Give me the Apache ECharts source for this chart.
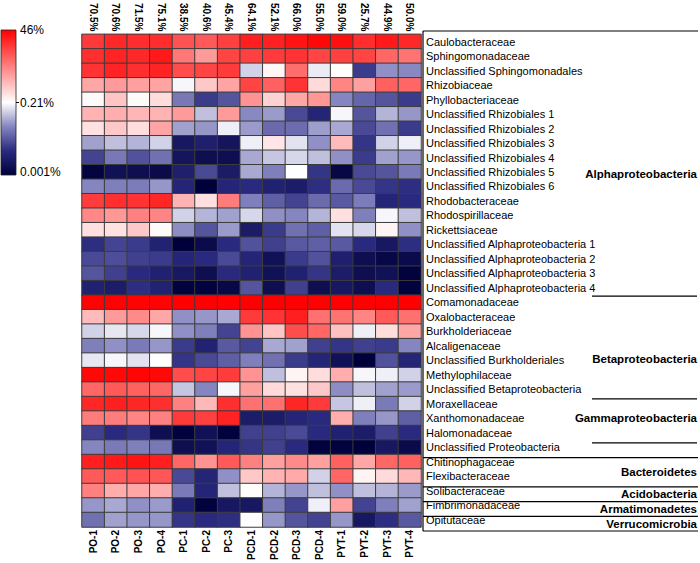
<!DOCTYPE html>
<html>
<head>
<meta charset="utf-8">
<script src="https://cdn.jsdelivr.net/npm/echarts@6/dist/echarts.min.js"></script>
<style>
html,body{margin:0;padding:0;background:#fff;}
#chart{width:700px;height:563px;}
</style>
</head>
<body>
<div id="chart"></div>
<script>
// ---- data ----
const samples = ['PO-1','PO-2','PO-3','PO-4','PC-1','PC-2','PC-3','PCD-1','PCD-2','PCD-3','PCD-4','PYT-1','PYT-2','PYT-3','PYT-4'];
const coverage = ['70.5%','70.6%','71.5%','75.1%','38.5%','40.6%','45.4%','64.1%','52.1%','66.0%','55.0%','59.0%','25.7%','44.9%','50.0%'];
const families = [
  'Caulobacteraceae','Sphingomonadaceae','Unclassified Sphingomonadales','Rhizobiaceae','Phyllobacteriaceae',
  'Unclassified Rhizobiales 1','Unclassified Rhizobiales 2','Unclassified Rhizobiales 3','Unclassified Rhizobiales 4',
  'Unclassified Rhizobiales 5','Unclassified Rhizobiales 6','Rhodobacteraceae','Rhodospirillaceae','Rickettsiaceae',
  'Unclassified Alphaproteobacteria 1','Unclassified Alphaproteobacteria 2','Unclassified Alphaproteobacteria 3',
  'Unclassified Alphaproteobacteria 4','Comamonadaceae','Oxalobacteraceae','Burkholderiaceae','Alcaligenaceae',
  'Unclassified Burkholderiales','Methylophilaceae','Unclassified Betaproteobacteria','Moraxellaceae',
  'Xanthomonadaceae','Halomonadaceae','Unclassified Proteobacteria','Chitinophagaceae','Flexibacteraceae',
  'Solibacteraceae','Fimbrimonadaceae','Opitutaceae'
];
// relative abundance (%) per family (rows) x sample (columns)
const abundance = [
  [14, 20, 18, 18, 8.2, 7, 12, 24, 23, 31, 39, 33, 18, 27, 20],
  [17, 22, 20, 27, 3.7, 1.8, 11, 12, 13.5, 15.6, 11, 12, 11, 5.3, 4.1],
  [15.6, 22, 17, 22, 9.1, 11, 13.5, 0.11, 0.26, 4.6, 0.16, 0.23, 0.0083, 0.042, 0.038],
  [1.4, 1.8, 1.6, 1.5, 0.19, 0.68, 1.45, 11, 6.1, 15.6, 0.47, 2.8, 1.6, 6.1, 5.3],
  [0.24, 0.73, 0.24, 0.44, 0.028, 0.0083, 0.014, 2.1, 0.55, 1.4, 1.9, 0.036, 0.019, 0.014, 0.0083],
  [1.06, 1.2, 1.0, 1.06, 1.8, 0.085, 1.8, 0.038, 0.049, 0.011, 0.0048, 0.19, 0.014, 0.071, 0.046],
  [0.4, 0.68, 0.44, 1.45, 0.054, 0.046, 0.17, 0.049, 0.021, 0.022, 0.052, 0.06, 0.011, 0.024, 0.0083],
  [0.054, 0.085, 0.071, 0.11, 0.0028, 0.0037, 0.0024, 0.17, 0.36, 0.14, 0.042, 0.9, 0.0075, 0.11, 0.17],
  [0.0098, 0.028, 0.013, 0.024, 0.0024, 0.0018, 0.0018, 0.06, 0.093, 0.12, 0.085, 0.042, 0.0083, 0.054, 0.046],
  [0.0012, 0.0021, 0.0018, 0.0016, 0.0037, 0.011, 0.0031, 0.06, 0.032, 0.21, 0.0075, 0.0014, 0.011, 0.014, 0.029],
  [0.036, 0.032, 0.03, 0.046, 0.0048, 0.001, 0.0048, 0.0058, 0.0041, 0.0033, 0.0063, 0.021, 0.011, 0.0075, 0.0063],
  [13, 17, 15.6, 20.5, 1.06, 0.42, 3.4, 0.032, 0.017, 0.0098, 0.021, 0.015, 0.03, 0.0048, 0.0058],
  [2.7, 1.9, 3.1, 2.8, 0.11, 0.071, 0.054, 0.12, 0.042, 0.036, 0.071, 0.42, 0.032, 0.19, 0.085],
  [0.42, 0.4, 0.68, 0.24, 0.04, 0.014, 0.049, 0.0031, 0.0083, 0.024, 0.017, 0.14, 0.12, 0.27, 0.042],
  [0.0063, 0.01, 0.0083, 0.0043, 0.001, 0.0016, 0.0058, 0.013, 0.0092, 0.015, 0.017, 0.015, 0.0058, 0.0028, 0.0063],
  [0.011, 0.012, 0.0092, 0.0083, 0.0048, 0.0058, 0.011, 0.0048, 0.0021, 0.0083, 0.013, 0.0037, 0.0018, 0.0014, 0.0016],
  [0.014, 0.0092, 0.0058, 0.0041, 0.0028, 0.0018, 0.0058, 0.0041, 0.0021, 0.0041, 0.0075, 0.0033, 0.0018, 0.0021, 0.0011],
  [0.0041, 0.0033, 0.0063, 0.0043, 0.0011, 0.0011, 0.0014, 0.014, 0.0018, 0.0092, 0.0018, 0.0028, 0.0018, 0.0058, 0.0011],
  [44, 45, 44, 43, 46, 46, 45, 46, 46, 46, 45, 46, 46, 46, 46],
  [0.9, 1.8, 2.5, 1.4, 0.042, 0.046, 0.06, 13.5, 15.6, 24, 4.3, 4.1, 2.8, 7, 4.3],
  [0.11, 0.15, 0.12, 0.19, 0.042, 0.032, 0.0098, 2.1, 0.73, 9.1, 5.3, 0.81, 0.17, 0.44, 1.4],
  [0.032, 0.042, 0.029, 0.046, 0.0083, 0.0043, 0.015, 0.0098, 0.06, 0.054, 0.0092, 0.0075, 0.0092, 0.0083, 0.036],
  [0.15, 0.19, 0.14, 0.21, 0.0075, 0.011, 0.017, 0.032, 0.024, 0.0083, 0.0048, 0.0021, 0.001, 0.013, 0.0048],
  [39, 39, 41, 39, 9.1, 11, 13, 2.1, 0.085, 0.27, 0.44, 1.2, 0.19, 0.17, 0.11],
  [5.3, 7, 6.1, 5.3, 0.093, 0.036, 0.19, 1.6, 0.47, 0.4, 0.68, 0.04, 0.085, 0.054, 0.049],
  [20.5, 24, 20.5, 17, 3.1, 0.95, 17, 4.3, 4.3, 20.5, 13.5, 0.093, 0.17, 0.029, 0.11],
  [3.4, 3.4, 2.8, 3.1, 13.5, 12, 22, 0.0033, 0.0033, 0.0048, 0.0058, 1.2, 0.032, 0.046, 0.017],
  [0.0092, 0.0058, 0.0075, 0.0018, 0.0011, 0.0021, 0.0011, 0.0092, 0.0092, 0.011, 0.0058, 0.0041, 0.0033, 0.0092, 0.0058],
  [0.036, 0.029, 0.032, 0.028, 0.0018, 0.0021, 0.0048, 0.0075, 0.0092, 0.0058, 0.0011, 0.0011, 0.001, 0.0028, 0.0016],
  [24, 27, 31, 24, 5.3, 2.1, 7, 3.1, 1.6, 2.5, 1.6, 6.1, 1.4, 5.3, 6.1],
  [7, 7, 8.2, 7.4, 0.011, 0.0048, 0.042, 0.68, 1.06, 1.3, 0.11, 5.3, 0.27, 0.47, 0.95],
  [3.1, 1.2, 1.4, 1.2, 0.029, 0.0048, 0.085, 0.23, 0.071, 0.046, 0.085, 0.042, 0.085, 0.071, 0.049],
  [0.046, 0.06, 0.042, 0.049, 0.0041, 0.0011, 0.0028, 0.0028, 0.032, 0.0098, 0.17, 1.6, 0.0098, 0.032, 0.054],
  [0.024, 0.054, 0.046, 0.046, 0.0075, 0.0058, 0.0063, 0.21, 0.046, 0.014, 0.0098, 0.046, 0.0028, 0.0063, 0.015]
];
const scaleMax = 46, scaleMid = 0.21, scaleMin = 0.001;   // % (log colour scale)
const legendLabels = ['46%', '0.21%', '0.001%'];
const phyla = [
  {name: 'Alphaproteobacteria', labelRow: 9.7},
  {name: 'Betaproteobacteria', labelRow: 22.3},
  {name: 'Gammaproteobacteria', labelRow: 26.3},
  {name: 'Bacteroidetes', labelRow: 30.0},
  {name: 'Acidobacteria', labelRow: 31.5},
  {name: 'Armatimonadetes', labelRow: 32.5},
  {name: 'Verrucomicrobia', labelRow: 33.5}
];
const fullLines = [0, 29, 31, 32, 33, 34];
const shortLines = [18, 25, 28];

// ---- layout ----
const G = {left: 82, top: 32, width: 339, height: 499};
const rowH = G.height / families.length;
const palette = ['#00003a', '#2a2a80', '#8585c0', '#ffffff', '#ffaaaa', '#ff5555', '#ff0000'];
const FONT = 'Liberation Sans, Arial, sans-serif';

const data = [];
abundance.forEach((row, r) => row.forEach((v, c) => data.push([c, r, Math.log10(v)])));

const graphics = [];
// legend bar
const LB = {x: 1, y: 30, w: 15, h: 145};
graphics.push({
  type: 'rect', shape: {x: LB.x, y: LB.y, width: LB.w, height: LB.h},
  style: {
    fill: new echarts.graphic.LinearGradient(0, 0, 0, 1,
      palette.slice().reverse().map((c, i) => ({offset: i / (palette.length - 1), color: c}))),
    stroke: '#222', lineWidth: 0.8
  }
});
graphics.push({type: 'line', shape: {x1: LB.x + LB.w, y1: LB.y + LB.h / 2, x2: LB.x + LB.w + 3, y2: LB.y + LB.h / 2}, style: {stroke: '#000', lineWidth: 1}});
[LB.y, LB.y + LB.h / 2, LB.y + LB.h - 3].forEach((yy, i) => {
  graphics.push({type: 'text', x: 20, y: yy, style: {text: legendLabels[i], font: '12px ' + FONT, fill: '#000', verticalAlign: 'middle', align: 'left'}});
});
// frame of the label column
const frameX = G.left + G.width + 2;
graphics.push({type: 'line', shape: {x1: frameX, y1: G.top - 1, x2: frameX, y2: G.top + G.height}, style: {stroke: '#000', lineWidth: 1.2}});
fullLines.forEach(r => {
  const yy = r === 0 ? G.top - 1 : G.top + r * rowH;
  graphics.push({type: 'line', shape: {x1: frameX, y1: yy, x2: 698, y2: yy}, style: {stroke: '#000', lineWidth: 1.2}});
});
shortLines.forEach(r => {
  const yy = G.top + r * rowH;
  graphics.push({type: 'line', shape: {x1: 592, y1: yy, x2: 697, y2: yy}, style: {stroke: '#000', lineWidth: 1.2}});
});
phyla.forEach(p => {
  graphics.push({type: 'text', x: 697, y: G.top + p.labelRow * rowH, style: {text: p.name, font: 'bold 11.5px ' + FONT, fill: '#000', align: 'right', verticalAlign: 'middle'}});
});

const chart = echarts.init(document.getElementById('chart'), null, {renderer: 'svg'});
chart.setOption({
  animation: false,
  backgroundColor: '#fff',
  grid: {left: G.left, top: G.top, width: G.width, height: G.height},
  xAxis: [
    {type: 'category', data: samples, position: 'bottom',
     axisLine: {show: false}, axisTick: {show: false}, splitLine: {show: false},
     axisLabel: {rotate: 90, margin: 3, fontSize: 10, fontWeight: 'bold', color: '#000', fontFamily: FONT, interval: 0}},
    {type: 'category', data: coverage, position: 'top',
     axisLine: {show: false}, axisTick: {show: false}, splitLine: {show: false},
     axisLabel: {rotate: 90, margin: 3, fontSize: 10, fontWeight: 'bold', color: '#000', fontFamily: FONT, interval: 0}}
  ],
  yAxis: {type: 'category', data: families, inverse: true, position: 'right',
    axisLine: {show: false}, axisTick: {show: false}, splitLine: {show: false},
    axisLabel: {margin: 5, fontSize: 11, color: '#000', fontFamily: FONT, interval: 0}},
  visualMap: {
    show: false, type: 'continuous', dimension: 2,
    min: Math.log10(scaleMin), max: Math.log10(scaleMax),
    inRange: {color: palette}
  },
  series: [{
    type: 'heatmap', xAxisIndex: 0, data: data,
    itemStyle: {borderColor: '#3c3c3c', borderWidth: 1},
    emphasis: {disabled: true}
  }],
  graphic: graphics
});
</script>
</body>
</html>
